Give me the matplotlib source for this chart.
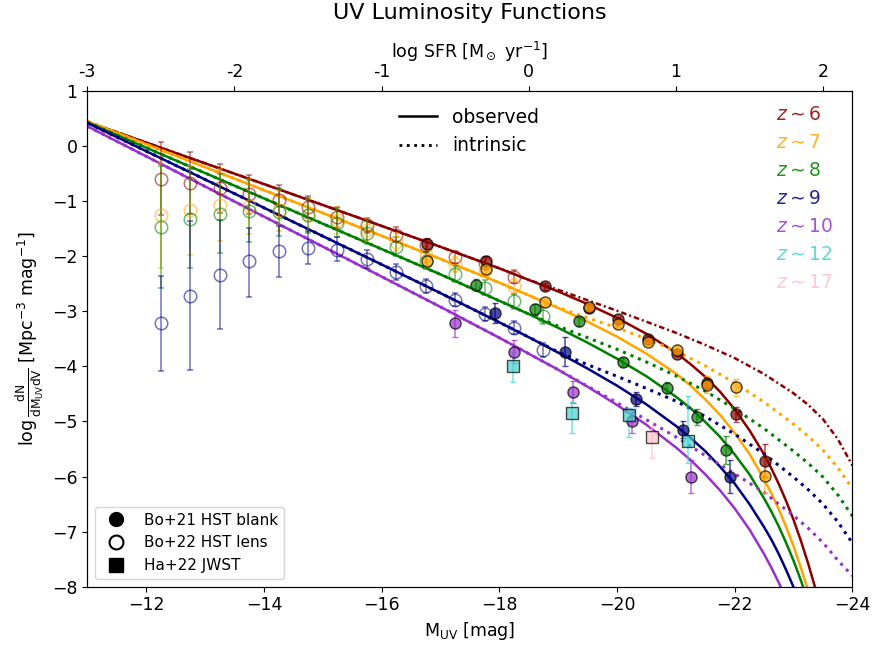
import numpy as np
import matplotlib
matplotlib.use("Agg")
import matplotlib.pyplot as plt
from matplotlib.lines import Line2D

# model curves: observed and dust-corrected ("intrinsic")
M_obs = [-11, -14, -16, -17, -18, -18.5, -19, -19.5, -20, -20.5, -21, -21.25, -21.5,
         -21.75, -22, -22.25, -22.5, -22.625, -22.75, -22.875, -23, -23.125, -23.25, -23.375, -23.5]
z6_obs = [0.44, -0.69, -1.45, -1.83, -2.22, -2.43, -2.64, -2.87, -3.12, -3.41, -3.75, -3.96, -4.19,
          -4.46, -4.78, -5.16, -5.60, -5.86, -6.14, -6.45, -6.79, -7.17, -7.59, -8.05, -8.57]
z7_obs = [0.45, -0.80, -1.63, -2.05, -2.48, -2.71, -2.94, -3.19, -3.46, -3.77, -4.13, -4.35, -4.60,
          -4.88, -5.21, -5.59, -6.05, -6.31, -6.60, -6.92, -7.27, -7.66, -8.08, -8.56, -9.08]
z8_obs = [0.43, -0.95, -1.87, -2.33, -2.81, -3.05, -3.30, -3.57, -3.86, -4.18, -4.55, -4.76, -5.01,
          -5.28, -5.60, -5.96, -6.40, -6.64, -6.91, -7.21, -7.53, -7.89, -8.28, -8.72, -9.20]
z9_obs = [0.42, -1.12, -2.15, -2.67, -3.20, -3.47, -3.75, -4.04, -4.35, -4.69, -5.08, -5.30, -5.54,
          -5.82, -6.13, -6.50, -6.92, -7.15, -7.41, -7.70, -8.01, -8.35, -8.72, -9.13, -9.58]
z10_obs = [0.36, -1.28, -2.37, -2.92, -3.48, -3.77, -4.06, -4.37, -4.70, -5.06, -5.47, -5.70, -5.96,
           -6.25, -6.58, -6.96, -7.41, -7.66, -7.93, -8.23, -8.56, -8.91, -9.30, -9.70, -10.10]

M_int = [-11, -14, -16, -17, -18, -18.5, -19, -19.5, -20, -20.5, -21, -21.5, -22, -22.5,
         -23, -23.25, -23.5, -23.75, -24]
z6_int = [0.44, -0.69, -1.45, -1.83, -2.22, -2.43, -2.61, -2.80, -2.99, -3.19, -3.39, -3.61, -3.85, -4.14,
          -4.49, -4.70, -4.96, -5.32, -5.80]
z7_int = [0.45, -0.80, -1.63, -2.05, -2.48, -2.71, -2.93, -3.12, -3.30, -3.50, -3.72, -3.99, -4.30, -4.65,
          -5.05, -5.27, -5.52, -5.84, -6.22]
z8_int = [0.43, -0.95, -1.87, -2.33, -2.81, -3.05, -3.27, -3.48, -3.69, -3.92, -4.17, -4.45, -4.77, -5.13,
          -5.54, -5.76, -6.01, -6.33, -6.72]
z9_int = [0.42, -1.12, -2.15, -2.67, -3.20, -3.47, -3.74, -3.97, -4.18, -4.40, -4.63, -4.91, -5.23, -5.59,
          -6.01, -6.24, -6.50, -6.82, -7.21]
z10_int = [0.36, -1.28, -2.37, -2.92, -3.48, -3.77, -4.06, -4.36, -4.66, -4.97, -5.28, -5.62, -5.95, -6.29,
           -6.71, -6.94, -7.20, -7.52, -7.80]

# Bo+21 HST blank fields (filled circles)
M_b6 = [-22.52, -22.02, -21.52, -21.02, -20.52, -20.02, -19.52, -18.77, -17.77, -16.77]
y_b6 = [-5.71, -4.87, -4.31, -3.77, -3.50, -3.14, -2.94, -2.55, -2.08, -1.77]
e_b6 = [0.30, 0.14, 0.08, 0.05, 0.04, 0.04, 0.05, 0.06, 0.08, 0.10]
M_b7 = [-22.52, -22.02, -21.52, -21.02, -20.52, -20.02, -19.52, -18.77, -17.77, -16.77]
y_b7 = [-5.99, -4.38, -4.33, -3.70, -3.55, -3.23, -2.93, -2.84, -2.24, -2.08]
e_b7 = [0.30, 0.15, 0.15, 0.08, 0.06, 0.05, 0.05, 0.06, 0.08, 0.12]
M_b8 = [-21.85, -21.35, -20.85, -20.10, -19.35, -18.60, -17.60]
y_b8 = [-5.52, -4.92, -4.39, -3.92, -3.18, -2.96, -2.52]
e_b8 = [0.25, 0.15, 0.10, 0.08, 0.08, 0.10, 0.10]
M_b9 = [-21.92, -21.12, -20.32, -19.12, -17.92]
y_b9 = [-6.00, -5.15, -4.59, -3.73, -3.03]
e_b9 = [0.30, 0.15, 0.12, 0.26, 0.18]
M_b10 = [-21.25, -20.25, -19.25, -18.25, -17.25]
y_b10 = [-6.00, -5.00, -4.47, -3.73, -3.22]
e_b10 = [0.30, 0.20, 0.20, 0.20, 0.25]

# Bo+22 HST lensing fields (open circles)
M_lens = [-12.25, -12.75, -13.25, -13.75, -14.25, -14.75, -15.25, -15.75, -16.25, -16.75,
          -17.25, -17.75, -18.25, -18.75]
y_l6 = [-0.59, -0.67, -0.77, -0.88, -0.98, -1.10, -1.29, -1.44, -1.61, -1.80, -2.02, -2.12, -2.37]
e_l6 = [0.67, 0.56, 0.45, 0.35, 0.27, 0.20, 0.19, 0.14, 0.14, 0.12, 0.11, 0.11, 0.12]
y_l7 = [-1.26, -1.17, -1.07, -1.09, -1.17, -1.26, -1.35, -1.53, -1.74, -1.98, -2.15, -2.25, -2.55]
e_l7 = [0.95, 0.80, 0.65, 0.50, 0.38, 0.30, 0.24, 0.20, 0.16, 0.14, 0.13, 0.13, 0.14]
y_l8 = [-1.47, -1.32, -1.23, -1.18, -1.20, -1.26, -1.39, -1.57, -1.83, -2.08, -2.32, -2.57, -2.82, -3.08]
e_l8 = [1.10, 0.90, 0.72, 0.56, 0.43, 0.32, 0.26, 0.21, 0.17, 0.15, 0.14, 0.14, 0.14, 0.15]
y_l9 = [-3.21, -2.73, -2.35, -2.08, -1.91, -1.85, -1.88, -2.05, -2.29, -2.54, -2.79, -3.05, -3.30, -3.70]
elo_l9 = [0.87, 1.33, 0.97, 0.66, 0.47, 0.30, 0.21, 0.17, 0.14, 0.12, 0.12, 0.12, 0.12, 0.13]
ehi_l9 = [0.85, 1.36, 1.00, 0.60, 0.45, 0.30, 0.22, 0.17, 0.14, 0.12, 0.12, 0.12, 0.12, 0.13]

# Ha+22 JWST (squares)
M_j12 = [-18.23, -19.23, -20.21, -21.21]
y_j12 = [-3.99, -4.84, -4.89, -5.36]
elo_j12 = [0.30, 0.37, 0.40, 0.40]
ehi_j12 = [0.25, 0.20, 0.14, 0.82]
M_j17 = [-20.60]
y_j17 = [-5.28]
elo_j17 = [0.38]
ehi_j17 = [0.20]

redshift_labels = ['6', '7', '8', '9', '10', '12', '17']
colors = ['darkred', 'orange', 'green', 'navy', 'darkorchid', 'mediumturquoise', 'pink']


def m2sfr(m):
    return -0.4 * (np.asarray(m) + 11.0) - 3.0


fig, ax = plt.subplots(figsize=(8.74, 6.54), dpi=100)
fig.subplots_adjust(left=0.0998, right=0.9754, bottom=0.1028, top=0.861)

# curves
obs_list = [z6_obs, z7_obs, z8_obs, z9_obs, z10_obs]
int_list = [z6_int, z7_int, z8_int, z9_int, z10_int]
for i in range(5):
    ax.plot(M_obs, obs_list[i], '-', color=colors[i], lw=1.8, zorder=2)
    if i == 0:
        ax.plot(M_int, int_list[i], color=colors[i], lw=1.8, ls=(0, (2.2, 1.2, 0.8, 1.2)), zorder=2)
    else:
        ax.plot(M_int, int_list[i], ':', color=colors[i], lw=2.2, zorder=2)

# lensing points
lens_y = [y_l6, y_l7, y_l8]
lens_e = [e_l6, e_l7, e_l8]
for i in range(3):
    n = len(lens_y[i])
    ax.errorbar(M_lens[:n], lens_y[i], yerr=lens_e[i], fmt='o', ms=9, mfc='none', mec=colors[i],
                mew=1.1, ecolor=colors[i], elinewidth=1.1, capsize=2.5, alpha=0.55, zorder=3)
ax.errorbar(M_lens, y_l9, yerr=[elo_l9, ehi_l9], fmt='o', ms=9, mfc='none', mec=colors[3],
            mew=1.1, ecolor=colors[3], elinewidth=1.1, capsize=2.5, alpha=0.55, zorder=3)

# blank field points
blank = [(M_b6, y_b6, e_b6), (M_b7, y_b7, e_b7), (M_b8, y_b8, e_b8),
         (M_b9, y_b9, e_b9), (M_b10, y_b10, e_b10)]
for i, (mm, yy, ee) in enumerate(blank):
    ax.errorbar(mm, yy, yerr=ee, fmt='o', ms=8, mfc=colors[i], mec='k', mew=1.0,
                ecolor=colors[i], elinewidth=1.1, capsize=2.5, alpha=0.7, zorder=4)

# JWST points
ax.errorbar(M_j12, y_j12, yerr=[elo_j12, ehi_j12], fmt='s', ms=8, mfc=colors[5], mec='k', mew=1.0,
            ecolor=colors[5], elinewidth=1.1, capsize=2.5, alpha=0.7, zorder=4)
ax.errorbar(M_j17, y_j17, yerr=[elo_j17, ehi_j17], fmt='s', ms=8, mfc=colors[6], mec='k', mew=1.0,
            ecolor=colors[6], elinewidth=1.1, capsize=2.5, alpha=0.7, zorder=4)

ax.set_xlim(-11, -24)
ax.set_ylim(-8, 1)
ax.set_xticks(np.arange(-12, -25, -2))
ax.set_yticks(np.arange(-8, 2, 1))
ax.tick_params(labelsize=12.5)
ax.set_xlabel(r'M$_{\rm UV}$ [mag]', fontsize=12.5)
ax.set_ylabel(r'log$\,\frac{\rm dN}{\rm dM_{UV}dV}$ [Mpc$^{-3}$ mag$^{-1}$]', fontsize=12.5)

# redshift labels
for i, (zl, c) in enumerate(zip(redshift_labels, colors)):
    ax.text(0.90, 0.952 - 0.0563 * i, r'$z\sim$' + zl, color=c, fontsize=13.5,
            transform=ax.transAxes, ha='left', va='center', alpha=0.85)

# line style legend
style_handles = [Line2D([], [], color='k', ls='-', lw=1.8),
                 Line2D([], [], color='k', ls=':', lw=2.0)]
leg1 = ax.legend(style_handles, ['observed', 'intrinsic'], loc='upper left',
                 bbox_to_anchor=(0.386, 1.0), frameon=False, fontsize=13.5)
ax.add_artist(leg1)

# data set legend
data_handles = [Line2D([], [], ls='none', marker='o', ms=10, mfc='k', mec='k'),
                Line2D([], [], ls='none', marker='o', ms=10, mfc='none', mec='k', mew=1.5),
                Line2D([], [], ls='none', marker='s', ms=10, mfc='k', mec='k')]
ax.legend(data_handles, ['Bo+21 HST blank', 'Bo+22 HST lens', 'Ha+22 JWST'],
          loc='lower left', fontsize=11)

# top axis: star formation rate
ax2 = ax.twiny()
ax2.set_xlim(m2sfr(-11), m2sfr(-24))
sfr_ticks = [-3, -2, -1, 0, 1, 2]
ax2.set_xticks(sfr_ticks)
ax2.set_xticklabels([str(t) for t in sfr_ticks])
ax2.tick_params(labelsize=12.5)
ax2.set_xlabel(r'log SFR [M$_\odot$ yr$^{-1}$]', fontsize=12.5)
ax2.set_title('UV Luminosity Functions', fontsize=16, pad=15)

fig.savefig('out.png', dpi=100)
